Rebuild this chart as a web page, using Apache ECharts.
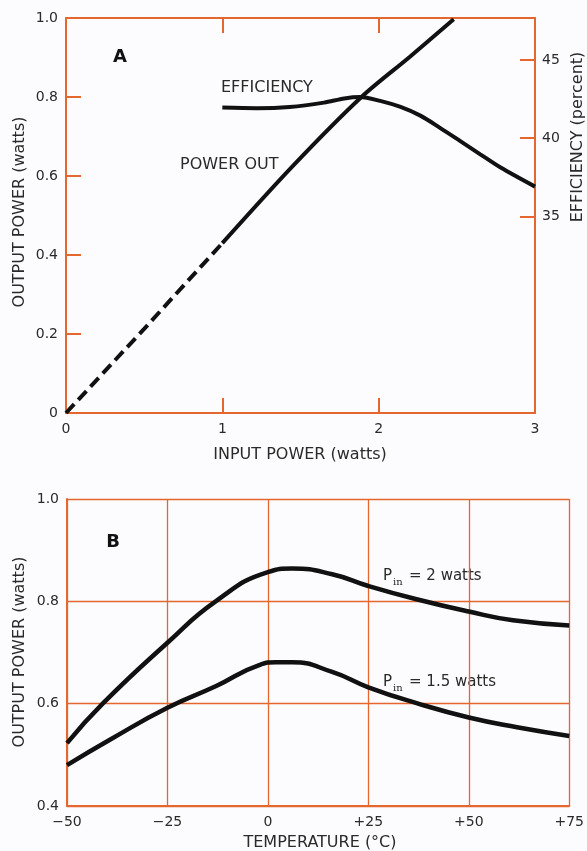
<!DOCTYPE html>
<html>
<head>
<meta charset="utf-8">
<script src="https://cdn.jsdelivr.net/npm/echarts@6/dist/echarts.min.js"></script>
<style>
html,body{margin:0;padding:0;background:#fcfbfd;}
#chart{width:587px;height:851px;}
</style>
</head>
<body>
<div id="chart"></div>
<script>
// ---- Chart A data ----
const inputPowerDashed = [0, 0.5, 1.0];
const outputPowerDashed = [0, 0.213, 0.43];
const inputPowerSolid = [1.0, 1.45, 1.89, 2.2, 2.48];
const outputPowerSolid = [0.43, 0.625, 0.80, 0.902, 0.997];
const effInput = [1.0, 1.22, 1.43, 1.65, 1.78, 1.88, 2.01, 2.14, 2.27, 2.39, 2.52, 2.65, 2.78, 3.0];
const effPercent = [41.96, 41.92, 42.0, 42.28, 42.55, 42.64, 42.39, 42.0, 41.43, 40.68, 39.83, 38.97, 38.12, 36.9];
const xTicksA = [0, 1, 2, 3];
const yTicksA = [0, 0.2, 0.4, 0.6, 0.8, 1.0];
const effTicks = [35, 40, 45];

// ---- Chart B data ----
const temp2W = [-50, -41, -25, -13, 0, 6, 16, 25, 37, 50, 61, 75];
const out2W = [0.523, 0.601, 0.719, 0.80, 0.857, 0.864, 0.853, 0.83, 0.804, 0.78, 0.763, 0.753];
const temp15W = [-50, -39, -25, -13, -2, 2, 6, 16, 25, 37, 50, 62, 75];
const out15W = [0.48, 0.531, 0.592, 0.634, 0.676, 0.681, 0.681, 0.662, 0.632, 0.601, 0.573, 0.554, 0.537];
const xTicksB = ['\u221250', '\u221225', '0', '+25', '+50', '+75'];

const zip = (a, b) => a.map((v, i) => [v, b[i]]);

const ORANGE = '#e4672f';
const INK = '#2a2a2a';
const FONT = 'DejaVu Sans';
const LINE = '#111';
const TITLE_FONT = '16px "DejaVu Sans"';

const chart = echarts.init(document.getElementById('chart'));

const labelStyle = {color: INK, fontFamily: FONT, fontSize: 14};
const axLine = {show: true, onZero: false, lineStyle: {color: ORANGE, width: 2}};

const option = {
  backgroundColor: '#fcfbfd',
  animation: false,
  grid: [
    {left: 66, top: 18, width: 469, height: 395, containLabel: false},
    {left: 67, top: 499, width: 505, height: 307, containLabel: false}
  ],
  xAxis: [
    {
      gridIndex: 0, type: 'value', min: 0, max: 3, interval: 1, position: 'bottom',
      axisLine: axLine,
      axisTick: {show: true, inside: true, length: 15, lineStyle: {color: ORANGE, width: 2}},
      axisLabel: Object.assign({margin: 9, formatter: v => String(xTicksA[Math.round(v)])}, labelStyle),
      splitLine: {show: false}
    },
    {
      gridIndex: 0, type: 'value', min: 0, max: 3, interval: 1, position: 'top',
      axisLine: axLine,
      axisTick: {show: true, inside: true, length: 15, lineStyle: {color: ORANGE, width: 2}},
      axisLabel: {show: false},
      splitLine: {show: false}
    },
    {
      gridIndex: 1, type: 'value', min: -50, max: 75, interval: 25,
      axisLine: axLine,
      axisTick: {show: false},
      axisLabel: Object.assign({margin: 9, formatter: v => xTicksB[Math.round((v + 50) / 25)]}, labelStyle),
      splitLine: {show: true, lineStyle: {color: ORANGE, width: 1.3}}
    }
  ],
  yAxis: [
    {
      gridIndex: 0, type: 'value', min: 0, max: 1, interval: 0.2, position: 'left',
      axisLine: axLine,
      axisTick: {show: true, inside: true, length: 15, lineStyle: {color: ORANGE, width: 2}},
      axisLabel: Object.assign({margin: 8, formatter: v => {
        const t = yTicksA[Math.round(v * 5)];
        return t === 0 ? '0' : t.toFixed(1);
      }}, labelStyle),
      splitLine: {show: false}
    },
    {
      gridIndex: 0, type: 'value', min: 22.4, max: 47.7, position: 'right',
      axisLine: axLine,
      axisTick: {show: true, inside: true, length: 15, customValues: effTicks, lineStyle: {color: ORANGE, width: 2}},
      axisLabel: Object.assign({margin: 7, customValues: effTicks}, labelStyle),
      splitLine: {show: false}
    },
    {
      gridIndex: 1, type: 'value', min: 0.4, max: 1.0, interval: 0.2,
      axisLine: axLine,
      axisTick: {show: false},
      axisLabel: Object.assign({margin: 8, formatter: v => v.toFixed(1)}, labelStyle),
      splitLine: {show: true, lineStyle: {color: ORANGE, width: 1.3}}
    }
  ],
  series: [
    {
      name: 'Power out (extrapolated)', type: 'line', xAxisIndex: 0, yAxisIndex: 0,
      data: zip(inputPowerDashed, outputPowerDashed), showSymbol: false, symbol: 'none',
      lineStyle: {color: LINE, width: 4, type: [12, 6], cap: 'butt'}
    },
    {
      name: 'Power out', type: 'line', xAxisIndex: 0, yAxisIndex: 0,
      data: zip(inputPowerSolid, outputPowerSolid), showSymbol: false, symbol: 'none', smooth: 0.3,
      lineStyle: {color: LINE, width: 4}
    },
    {
      name: 'Efficiency', type: 'line', xAxisIndex: 0, yAxisIndex: 1,
      data: zip(effInput, effPercent), showSymbol: false, symbol: 'none', smooth: 0.3,
      lineStyle: {color: LINE, width: 4}
    },
    {
      name: 'Pin = 2 watts', type: 'line', xAxisIndex: 2, yAxisIndex: 2,
      data: zip(temp2W, out2W), showSymbol: false, symbol: 'none', smooth: 0.5,
      lineStyle: {color: LINE, width: 4.5}
    },
    {
      name: 'Pin = 1.5 watts', type: 'line', xAxisIndex: 2, yAxisIndex: 2,
      data: zip(temp15W, out15W), showSymbol: false, symbol: 'none', smooth: 0.5,
      lineStyle: {color: LINE, width: 4.5}
    }
  ],
  graphic: [
    {type: 'text', x: 20, y: 212, rotation: Math.PI / 2,
      style: {text: 'OUTPUT POWER (watts)', fill: INK, font: TITLE_FONT, align: 'center', verticalAlign: 'middle'}},
    {type: 'text', x: 578, y: 137, rotation: Math.PI / 2,
      style: {text: 'EFFICIENCY (percent)', fill: INK, font: TITLE_FONT, align: 'center', verticalAlign: 'middle'}},
    {type: 'text', x: 300, y: 455,
      style: {text: 'INPUT POWER (watts)', fill: INK, font: TITLE_FONT, align: 'center', verticalAlign: 'middle'}},
    {type: 'text', x: 120, y: 57,
      style: {text: 'A', fill: '#111', font: 'bold 18px "DejaVu Sans"', align: 'center', verticalAlign: 'middle'}},
    {type: 'text', x: 221, y: 88,
      style: {text: 'EFFICIENCY', fill: INK, font: TITLE_FONT, align: 'left', verticalAlign: 'middle'}},
    {type: 'text', x: 180, y: 165,
      style: {text: 'POWER OUT', fill: INK, font: TITLE_FONT, align: 'left', verticalAlign: 'middle'}},

    {type: 'text', x: 20, y: 652, rotation: Math.PI / 2,
      style: {text: 'OUTPUT POWER (watts)', fill: INK, font: TITLE_FONT, align: 'center', verticalAlign: 'middle'}},
    {type: 'text', x: 320, y: 843,
      style: {text: 'TEMPERATURE (\u00B0C)', fill: INK, font: TITLE_FONT, align: 'center', verticalAlign: 'middle'}},
    {type: 'text', x: 113, y: 542,
      style: {text: 'B', fill: '#111', font: 'bold 18px "DejaVu Sans"', align: 'center', verticalAlign: 'middle'}},

    {type: 'text', x: 383, y: 576,
      style: {text: 'P', fill: INK, font: '15px "DejaVu Sans"', align: 'left', verticalAlign: 'middle'}},
    {type: 'text', x: 393, y: 582,
      style: {text: 'in', fill: INK, font: '10px "DejaVu Serif"', align: 'left', verticalAlign: 'middle'}},
    {type: 'text', x: 409, y: 576,
      style: {text: '= 2 watts', fill: INK, font: '15px "DejaVu Sans"', align: 'left', verticalAlign: 'middle'}},

    {type: 'text', x: 383, y: 682,
      style: {text: 'P', fill: INK, font: '15px "DejaVu Sans"', align: 'left', verticalAlign: 'middle'}},
    {type: 'text', x: 393, y: 688,
      style: {text: 'in', fill: INK, font: '10px "DejaVu Serif"', align: 'left', verticalAlign: 'middle'}},
    {type: 'text', x: 409, y: 682,
      style: {text: '= 1.5 watts', fill: INK, font: '15px "DejaVu Sans"', align: 'left', verticalAlign: 'middle'}}
  ]
};

chart.setOption(option);
</script>
</body>
</html>
